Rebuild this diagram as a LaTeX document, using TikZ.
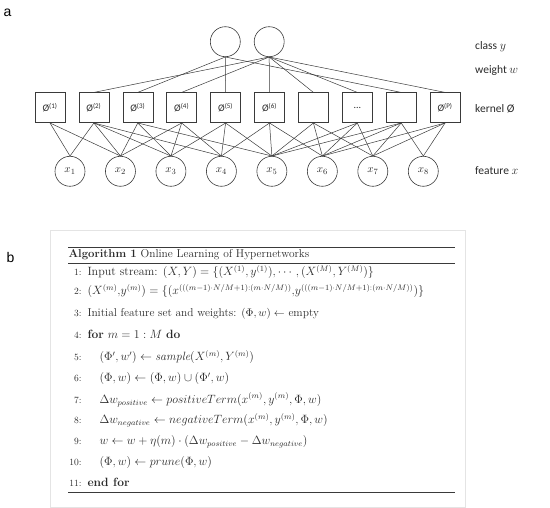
\documentclass[tikz,border=0pt]{standalone}
\usepackage{fontspec}
\usepackage{amsmath,amssymb}
\newfontfamily\carlito{Carlito}
\newfontfamily\arialf{Liberation Sans}
\definecolor{ln}{HTML}{3A3A3A}
\definecolor{txt}{HTML}{2A2A2A}
\definecolor{boxb}{HTML}{E4E4E4}
\tikzset{
  cls/.style={circle,draw=ln,line width=0.6pt,minimum size=30pt,inner sep=0pt},
  kern/.style={rectangle,draw=ln,line width=0.6pt,minimum size=30pt,inner sep=0pt,font=\carlito\fontsize{10}{12}\selectfont,text=txt},
  feat/.style={circle,draw=ln,line width=0.6pt,minimum size=30pt,inner sep=0pt,font=\fontsize{11}{13}\selectfont,text=txt},
  edge/.style={draw=ln,line width=0.5pt},
  lab/.style={anchor=west,font=\carlito\fontsize{11.5}{13}\selectfont,text=txt,inner sep=0pt},
  panel/.style={anchor=base west,font=\arialf\fontsize{14}{16}\selectfont,inner sep=0pt},
  algl/.style={anchor=base west,font=\fontsize{12}{14}\selectfont,text=txt,inner sep=0pt},
  algn/.style={anchor=base east,font=\fontsize{9.5}{11}\selectfont,text=txt,inner sep=0pt},
  rulel/.style={draw=ln,line width=0.5pt}
}
\begin{document}
\begin{tikzpicture}[x=1pt,y=-1pt]
\useasboundingbox (0,0) rectangle (550,508);
% panel labels
\node[panel] (pa) at (3.3,16.7) {a};
\node[panel] (pb) at (6.5,263) {b};
% class nodes
\node[cls] (y1) at (225.3,41.7) {};
\node[cls] (y2) at (269.2,41.7) {};
% kernel nodes
\node[kern] (k1) at (50.0,107.7) {Ø\textsuperscript{(1)}};
\node[kern] (k2) at (93.9,107.7) {Ø\textsuperscript{(2)}};
\node[kern] (k3) at (137.8,107.7) {Ø\textsuperscript{(3)}};
\node[kern] (k4) at (181.7,107.7) {Ø\textsuperscript{(4)}};
\node[kern] (k5) at (225.6,107.7) {Ø\textsuperscript{(5)}};
\node[kern] (k6) at (269.5,107.7) {Ø\textsuperscript{(6)}};
\node[kern] (k7) at (313.4,107.7) {};
\node[kern] (k8) at (357.3,107.7) {...};
\node[kern] (k9) at (401.2,107.7) {};
\node[kern] (k10) at (445.1,107.7) {Ø\textsuperscript{(P)}};
% feature nodes
\foreach \i in {1,...,8} {
  \node[feat] (x\i) at ({70+50.47*(\i-1)},171.3) {$x_{\i}$};
}
% class-kernel connectors
\foreach \k in {3,5,9} { \draw[edge] (y1.south) -- (k\k.north); }
\foreach \k in {2,4,6,7,8,10} { \draw[edge] (y2.south) -- (k\k.north); }
% kernel-feature connectors
\foreach \k/\f in {1/1,1/2, 2/1,2/2,2/3,2/4, 3/2,3/3,3/5, 4/2,4/3,4/4, 5/3,5/4,5/5, 6/4,6/5,6/6, 7/5,7/6,7/7, 8/5,8/6,8/7, 9/5,9/6,9/7,9/8, 10/6,10/7,10/8} {
  \draw[edge] (k\k.south) -- (x\f.north);
}
% right labels
\node[lab] (lc) at (475,46.7) {class $y$};
\node[lab] (lw) at (475,70) {weight $w$};
\node[lab] (lk) at (475,108.3) {kernel Ø};
\node[lab] (lf) at (475,170.7) {feature $x$};
% algorithm panel
\draw[boxb,line width=0.8pt] (50,230) rectangle (465,507.5);
\draw[rulel,line width=0.9pt] (68.3,247) -- (455,247);
\draw[rulel] (68.3,263) -- (455,263);
\draw[rulel] (68.3,492.3) -- (455,492.3);
\node[algl,font=\fontsize{11.4}{14}\selectfont] (t0) at (68.3,257.3) {\textbf{Algorithm 1} Online Learning of Hypernetworks};
\foreach \n/\yy in {1/276,2/295,3/316.7,4/339,5/360.7,6/381.7,7/403.3,8/424,9/445,10/466,11/486.7} {
  \node[algn] (n\n) at (81.7,\yy) {\n:};
}
\node[algl] (a1) at (87.3,276) {Input stream: $(X,Y)=\{(X^{(1)},y^{(1)}),\cdots,(X^{(M)},Y^{(M)})\}$};
\node[algl] (a2) at (87.3,295) {$(X^{(m)}{,}y^{(m)})=\{(x^{(((m-1)\cdot N/M+1):(m\cdot N/M))}{,}y^{(((m-1)\cdot N/M+1):(m\cdot N/M))})\}$};
\node[algl,font=\fontsize{11.4}{14}\selectfont] (a3) at (87.3,316.7) {Initial feature set and weights: $(\Phi,w)\leftarrow$ empty};
\node[algl] (a4) at (87.3,339) {\textbf{for} $m=1:M$ \textbf{do}};
\node[algl] (a5) at (99.3,360.7) {$(\Phi',w')\leftarrow \mathit{sample}(X^{(m)},Y^{(m)})$};
\node[algl] (a6) at (99.3,381.7) {$(\Phi,w)\leftarrow(\Phi,w)\cup(\Phi',w)$};
\node[algl] (a7) at (99.3,403.3) {$\Delta w_{positive}\leftarrow positiveTerm(x^{(m)},y^{(m)},\Phi,w)$};
\node[algl] (a8) at (99.3,424) {$\Delta w_{negative}\leftarrow negativeTerm(x^{(m)},y^{(m)},\Phi,w)$};
\node[algl] (a9) at (99.3,445) {$w\leftarrow w+\eta(m)\cdot(\Delta w_{positive}-\Delta w_{negative})$};
\node[algl] (a10) at (99.3,466) {$(\Phi,w)\leftarrow prune(\Phi,w)$};
\node[algl] (a11) at (87.3,486.7) {\textbf{end for}};
\end{tikzpicture}
\end{document}
